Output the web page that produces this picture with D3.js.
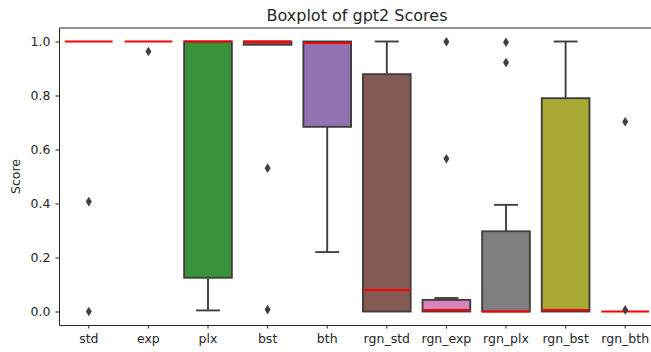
<!DOCTYPE html>
<html lang="en">
<head>
<meta charset="utf-8" />
<style>
body { margin: 0; background: #fff; }
text { font-family: "DejaVu Sans", sans-serif; fill: #262626; }
.axis path, .axis line { stroke: #262626; }
.axis text { font-size: 12.5px; }
</style>
</head>
<body>
<script src="https://cdn.jsdelivr.net/npm/d3@7"></script>
<script>
var categories = ["std", "exp", "plx", "bst", "bth", "rgn_std", "rgn_exp", "rgn_plx", "rgn_bst", "rgn_bth"];
var colors = ["#3274a1", "#e1812c", "#3a923a", "#c03d3e", "#9372b2", "#845b53", "#d684bd", "#7f7f7f", "#a9aa35", "#2e9ebf"];
var q1 = [1.0, 1.0, 0.125, 0.988, 0.684, 0.0, 0.0, 0.0, 0.0, 0.0];
var medians = [1.0, 1.0, 1.0, 1.0, 0.994, 0.08, 0.006, 0.0, 0.006, 0.0];
var q3 = [1.0, 1.0, 1.0, 1.0, 1.0, 0.879, 0.043, 0.297, 0.79, 0.0];
var whiskLo = [1.0, 1.0, 0.004, 0.988, 0.22, 0.0, 0.0, 0.0, 0.0, 0.0];
var whiskHi = [1.0, 1.0, 1.0, 1.0, 1.0, 1.0, 0.05, 0.395, 1.0, 0.0];
var fliers = [[0.407, 0.0], [0.963], [], [0.531, 0.007], [], [], [0.999, 0.566], [0.997, 0.922], [], [0.703, 0.006]];
var yTicks = [0.0, 0.2, 0.4, 0.6, 0.8, 1.0];

var width = 651, height = 352;
var margin = { left: 59, right: -4, top: 28, bottom: 27 };
var edge = "#3f3f3f";

var svg = d3.select("body").append("svg")
    .attr("width", width)
    .attr("height", height);

var x = d3.scaleBand()
    .domain(categories)
    .range([margin.left, width - margin.right])
    .paddingInner(0).paddingOuter(0);

var y = d3.scaleLinear()
    .domain([-0.05, 1.05])
    .range([height - margin.bottom, margin.top]);

var boxW = x.bandwidth() * 0.8;
var capW = boxW / 2;
var lw = 1.9;

var g = svg.append("g");

categories.forEach(function (c, i) {
    var cx = x(c) + x.bandwidth() / 2;
    var grp = g.append("g");
    // whiskers
    if (whiskLo[i] < q1[i]) {
        grp.append("line").attr("x1", cx).attr("x2", cx)
            .attr("y1", y(q1[i])).attr("y2", y(whiskLo[i]))
            .attr("stroke", edge).attr("stroke-width", lw);
        grp.append("line").attr("x1", cx - capW / 2).attr("x2", cx + capW / 2)
            .attr("y1", y(whiskLo[i])).attr("y2", y(whiskLo[i]))
            .attr("stroke", edge).attr("stroke-width", lw);
    }
    if (whiskHi[i] > q3[i]) {
        grp.append("line").attr("x1", cx).attr("x2", cx)
            .attr("y1", y(q3[i])).attr("y2", y(whiskHi[i]))
            .attr("stroke", edge).attr("stroke-width", lw);
        grp.append("line").attr("x1", cx - capW / 2).attr("x2", cx + capW / 2)
            .attr("y1", y(whiskHi[i])).attr("y2", y(whiskHi[i]))
            .attr("stroke", edge).attr("stroke-width", lw);
    }
    // box
    grp.append("rect")
        .attr("x", cx - boxW / 2)
        .attr("y", y(q3[i]))
        .attr("width", boxW)
        .attr("height", Math.max(0, y(q1[i]) - y(q3[i])))
        .attr("fill", colors[i])
        .attr("stroke", edge)
        .attr("stroke-width", lw);
    // median
    grp.append("line")
        .attr("x1", cx - boxW / 2).attr("x2", cx + boxW / 2)
        .attr("y1", y(medians[i])).attr("y2", y(medians[i]))
        .attr("stroke", "#ff0000").attr("stroke-width", 2);
    // fliers
    grp.selectAll(".flier")
        .data(fliers[i])
        .enter().append("path")
        .attr("class", "flier")
        .attr("d", "M0,-4.8L3,0L0,4.8L-3,0Z")
        .attr("transform", function (d) { return "translate(" + cx + "," + y(d) + ")"; })
        .attr("fill", edge);
});

// axes
svg.append("g").attr("class", "axis")
    .attr("transform", "translate(0," + (height - margin.bottom) + ")")
    .call(d3.axisBottom(x).tickSize(3.5).tickPadding(4).tickSizeOuter(0))
    .call(function (a) { a.selectAll("text").attr("dy", "0.8em"); });

svg.append("g").attr("class", "axis")
    .attr("transform", "translate(" + margin.left + ",0)")
    .call(d3.axisLeft(y).tickValues(yTicks).tickFormat(d3.format(".1f")).tickSize(3.5).tickPadding(5).tickSizeOuter(0));

// top spine
svg.append("line")
    .attr("x1", margin.left).attr("x2", width - margin.right)
    .attr("y1", margin.top).attr("y2", margin.top)
    .attr("stroke", "#262626");

svg.append("text")
    .attr("x", (margin.left + width - margin.right) / 2)
    .attr("y", 21)
    .attr("text-anchor", "middle")
    .style("font-size", "16px")
    .text("Boxplot of gpt2 Scores");

svg.append("text")
    .attr("transform", "translate(20," + ((margin.top + height - margin.bottom) / 2) + ") rotate(-90)")
    .attr("text-anchor", "middle")
    .style("font-size", "12.5px")
    .text("Score");
</script>
</body>
</html>
